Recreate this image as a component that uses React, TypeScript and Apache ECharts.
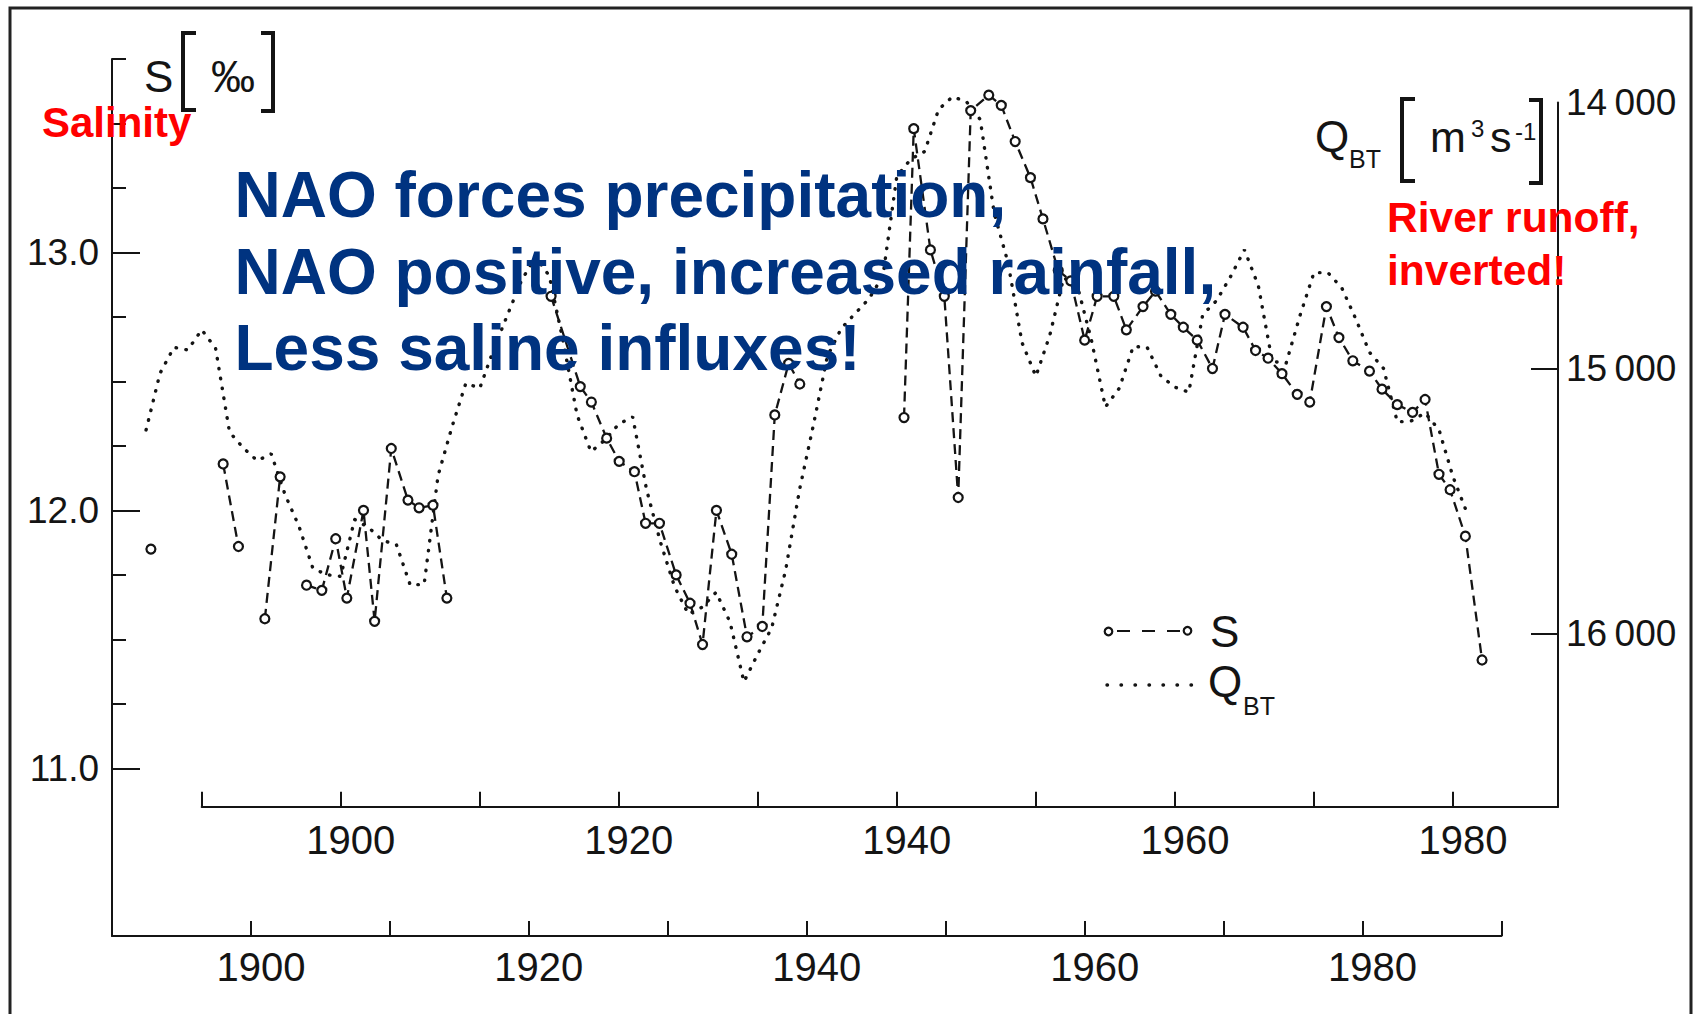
import React, { useEffect, useRef } from "react";
import * as echarts from "echarts";

// Salinity S (‰), lower time axis; gaps are null
const S_YEARS = [
  1892.8, 1895,
  1898.0, 1899.1, 1900,
  1901.0, 1902.1, 1903,
  1904.0, 1905.1, 1906.1, 1906.9, 1908.1, 1908.9, 1910.1, 1911.3, 1912.1, 1913.1, 1914.1, 1918,
  1921.6, 1923.7, 1924.5, 1925.6, 1926.5, 1927.6, 1928.4, 1929.4, 1930.6, 1931.6, 1932.5, 1933.5,
  1934.6, 1935.7, 1936.8, 1937.7, 1938.7, 1939.5, 1943,
  1947.0, 1947.7, 1948.9, 1949.9, 1950.9, 1951.8, 1953.1, 1954.0, 1955.0, 1956.1, 1957.0, 1958.1,
  1959.0, 1960.0, 1960.9, 1962.1, 1963.0, 1964.2, 1965.1, 1966.2, 1967.1, 1968.1, 1969.2, 1970.1,
  1971.4, 1972.3, 1973.2, 1974.2, 1975.3, 1976.2, 1977.4, 1978.3, 1979.3, 1980.5, 1981.4, 1982.5,
  1983.6, 1984.5, 1985.5, 1986.3, 1987.4, 1988.6,
];
const S_VALUES: (number | null)[] = [
  11.85, null,
  12.18, 11.86, null,
  11.58, 12.13, null,
  11.71, 11.69, 11.89, 11.66, 12.0, 11.57, 12.24, 12.04, 12.01, 12.02, 11.66, null,
  12.83, 12.48, 12.42, 12.28, 12.19, 12.15, 11.95, 11.95, 11.75, 11.64, 11.48, 12.0,
  11.83, 11.51, 11.55, 12.37, 12.57, 12.49, null,
  12.36, 13.48, 13.01, 12.83, 12.05, 13.55, 13.61, 13.57, 13.43, 13.29, 13.13, 12.93,
  12.89, 12.66, 12.83, 12.83, 12.7, 12.79, 12.85, 12.76, 12.71, 12.66, 12.55, 12.76,
  12.71, 12.62, 12.59, 12.53, 12.45, 12.42, 12.79, 12.67, 12.58, 12.54, 12.47, 12.41,
  12.38, 12.43, 12.14, 12.08, 11.9, 11.42,
];

// Baltic river runoff Q_BT (m³/s), upper time axis, plotted on an inverted scale
const Q_YEARS = [
  1886, 1887, 1888, 1889, 1890, 1891, 1892, 1893, 1894, 1895, 1896, 1897, 1898, 1899, 1900,
  1901, 1902, 1903, 1904, 1905, 1906, 1907, 1908, 1909, 1910, 1911, 1912, 1913, 1914, 1915,
  1916, 1917, 1918, 1919, 1920, 1921, 1922, 1923, 1924, 1925, 1926, 1927, 1928, 1929, 1930,
  1931, 1932, 1933, 1934, 1935, 1936, 1937, 1938, 1939, 1940, 1941, 1942, 1943, 1944, 1945,
  1946, 1947, 1948, 1949, 1950, 1951, 1952, 1953, 1954, 1955, 1956, 1957, 1958, 1959, 1960,
  1961, 1962, 1963, 1964, 1965, 1966, 1967, 1968, 1969, 1970, 1971, 1972, 1973, 1974, 1975,
  1976, 1977, 1978, 1979, 1980, 1981,
];
const Q_VALUES = [
  15232, 15019, 14921, 14931, 14855, 14925, 15240, 15300, 15348, 15322, 15476, 15595, 15753, 15777, 15783,
  15569, 15599, 15648, 15663, 15816, 15813, 15404, 15221, 15056, 15075, 14929, 14798, 14670, 14580, 14652,
  14899, 15176, 15314, 15270, 15210, 15183, 15457, 15655, 15820, 15925, 15899, 15843, 15955, 16180, 16075,
  15977, 15760, 15457, 15213, 14955, 14850, 14794, 14738, 14652, 14277, 14213, 14184, 14026, 13978, 13996,
  14064, 14416, 14603, 14903, 15030, 14876, 14659, 14693, 14895, 15146, 15075, 14918, 14921, 15030, 15071,
  15090, 14798, 14745, 14655, 14554, 14689, 14974, 14981, 14801, 14640, 14640, 14697, 14813, 14940, 15000,
  15202, 15198, 15168, 15232, 15408, 15543,
];

// Axis ticks and labels
const LOWER_YEAR_TICKS = [1890, 1900, 1910, 1920, 1930, 1940, 1950, 1960, 1970, 1980, 1990];
const UPPER_YEAR_TICKS = [1890, 1900, 1910, 1920, 1930, 1940, 1950, 1960, 1970, 1980];
const YEAR_LABELS = [1900, 1920, 1940, 1960, 1980];
const S_MINOR_TICKS = [11, 11.25, 11.5, 11.75, 12, 12.25, 12.5, 12.75, 13, 13.25, 13.5, 13.75];
const S_MAJOR_TICKS = [11, 12, 13];
const Q_TICKS = [15000, 16000];
const Q_LABELS = [14000, 15000, 16000];

const HEADLINE = [
  "NAO forces precipitation,",
  "NAO positive, increased rainfall,",
  "Less saline influxes!",
];

const SANS = "'Liberation Sans', Arial, Helvetica, sans-serif";
const INK = "#141414";

// upper (runoff) time scale: 1890 sits at x = 201.7, 13.903 px per year, right axis at x = 1558
const Q_LEFT = 201.7;
const Q_RIGHT = 1558;
const PX_PER_YEAR = 13.903;
const Q_MAX_YEAR = 1890 + (Q_RIGHT - Q_LEFT) / PX_PER_YEAR;
// the runoff curve starts left of the upper axis, so it lives in a wider, axis-less grid
const Q_WIDE_LEFT = 112;
const Q_WIDE_MIN_YEAR = 1890 - (Q_LEFT - Q_WIDE_LEFT) / PX_PER_YEAR;

// vertical centre for a given alphabetic baseline
const mid = (baseline: number, size: number) => baseline - 0.3465 * size;

function txt(text: string, x: number, baseline: number, size: number, extra: any = {}) {
  return {
    type: "text",
    x,
    y: mid(baseline, size),
    z: 100,
    style: {
      text,
      fontSize: size,
      fontFamily: SANS,
      fill: INK,
      align: "left",
      verticalAlign: "middle",
      ...extra,
    },
  };
}

function bracket(xOuter: number, xInner: number, top: number, bottom: number) {
  return {
    type: "polyline",
    z: 100,
    shape: {
      points: [
        [xInner, top],
        [xOuter, top],
        [xOuter, bottom],
        [xInner, bottom],
      ],
    },
    style: { stroke: INK, lineWidth: 4, fill: null },
  };
}

export default function App() {
  const ref = useRef<HTMLDivElement>(null);

  useEffect(() => {
    if (!ref.current) return;
    const chart = echarts.init(ref.current, null, { renderer: "svg" });

    const sData = S_YEARS.map((y, i) => [y, S_VALUES[i]]);
    const qData = Q_YEARS.map((y, i) => [y, Q_VALUES[i]]);

    const axisLine = { show: true, onZero: false, lineStyle: { color: INK, width: 2 } };
    const yearLabel = (margin: number) => ({
      customValues: YEAR_LABELS,
      formatter: (v: number) => String(v),
      fontSize: 40,
      fontFamily: SANS,
      color: INK,
      margin,
      padding: [0, 0, 0, 20],
    });

    const graphic: any[] = [
      // outer frame
      {
        type: "rect",
        z: 100,
        shape: { x: 10, y: 8, width: 1681, height: 1040 },
        style: { fill: null, stroke: "#222", lineWidth: 3 },
      },
      // S [‰]
      txt("S", 144, 92, 44),
      bracket(183, 196, 33, 110),
      txt("‰", 211, 92, 44),
      bracket(273, 261, 33, 111),
      // Q_BT [m³ s⁻¹]
      txt("Q", 1315, 152, 44),
      txt("BT", 1349, 168, 25),
      bracket(1402, 1415, 99, 181),
      txt("m", 1430, 152, 43),
      txt("3", 1471, 137, 24),
      txt("s", 1490, 152, 43),
      txt("-1", 1515, 140, 24),
      bracket(1541, 1529, 100, 183),
      // red notes
      txt("Salinity", 42, 136.7, 42, { fill: "#ff0000", fontWeight: "bold" }),
      txt("River runoff,", 1387, 232.7, 42.5, { fill: "#ff0000", fontWeight: "bold" }),
      txt("inverted!", 1387, 285, 42.5, { fill: "#ff0000", fontWeight: "bold" }),
      // headline
      ...HEADLINE.map((line, i) =>
        txt(line, 234.5, 217.3 + i * 76.4, 64, { fill: "#003380", fontWeight: "bold" })
      ),
      // legend: S
      {
        type: "line",
        z: 100,
        shape: { x1: 1112, y1: 631, x2: 1184, y2: 631 },
        style: { stroke: INK, lineWidth: 2, lineDash: [13, 12], lineDashOffset: -5 },
      },
      {
        type: "circle",
        z: 101,
        shape: { cx: 1108.5, cy: 631.5, r: 3.8 },
        style: { fill: "#fff", stroke: INK, lineWidth: 2.2 },
      },
      {
        type: "circle",
        z: 101,
        shape: { cx: 1187.5, cy: 630.8, r: 3.8 },
        style: { fill: "#fff", stroke: INK, lineWidth: 2.2 },
      },
      txt("S", 1210, 646.7, 44),
      // legend: Q_BT
      {
        type: "line",
        z: 100,
        shape: { x1: 1107, y1: 685, x2: 1192, y2: 685 },
        style: { stroke: INK, lineWidth: 3.4, lineDash: [0.5, 13.5], lineCap: "round" },
      },
      txt("Q", 1208, 697, 44),
      txt("BT", 1243, 715, 25),
    ];

    chart.setOption({
      animation: false,
      backgroundColor: "#ffffff",
      grid: [
        { left: 112, top: 59, width: 1389.5, height: 877, outerBoundsMode: "none" },
        { left: Q_LEFT, top: 102.6, width: Q_RIGHT - Q_LEFT, height: 704.1, outerBoundsMode: "none" },
        { left: Q_WIDE_LEFT, top: 102.6, width: Q_RIGHT - Q_WIDE_LEFT, height: 704.1, outerBoundsMode: "none" },
      ],
      xAxis: [
        {
          gridIndex: 0,
          type: "value",
          min: 1890,
          max: 1990,
          position: "bottom",
          axisLine,
          axisTick: { show: true, inside: true, length: 15, customValues: LOWER_YEAR_TICKS, lineStyle: { color: INK, width: 2 } },
          axisLabel: yearLabel(11),
          splitLine: { show: false },
        },
        {
          gridIndex: 1,
          type: "value",
          min: 1890,
          max: Q_MAX_YEAR,
          position: "bottom",
          axisLine,
          axisTick: { show: true, inside: true, length: 15, customValues: UPPER_YEAR_TICKS, lineStyle: { color: INK, width: 2 } },
          axisLabel: yearLabel(13),
          splitLine: { show: false },
        },
        {
          gridIndex: 2,
          type: "value",
          min: Q_WIDE_MIN_YEAR,
          max: Q_MAX_YEAR,
          show: false,
          splitLine: { show: false },
        },
      ],
      yAxis: [
        {
          gridIndex: 0,
          type: "value",
          min: 10.35,
          max: 13.75,
          position: "left",
          axisLine,
          axisTick: { show: true, inside: true, length: 14, customValues: S_MINOR_TICKS, lineStyle: { color: INK, width: 2 } },
          axisLabel: { show: false },
          splitLine: { show: false },
        },
        {
          gridIndex: 0,
          type: "value",
          min: 10.35,
          max: 13.75,
          position: "left",
          axisLine: { show: false },
          axisTick: { show: true, inside: true, length: 28, customValues: S_MAJOR_TICKS, lineStyle: { color: INK, width: 2 } },
          axisLabel: {
            customValues: S_MAJOR_TICKS,
            formatter: (v: number) => v.toFixed(1),
            fontSize: 37,
            fontFamily: SANS,
            color: INK,
            margin: 13,
          },
          splitLine: { show: false },
        },
        {
          gridIndex: 1,
          type: "value",
          min: 14000,
          max: 16650,
          inverse: true,
          position: "right",
          axisLine,
          axisTick: { show: true, inside: true, length: 27, customValues: Q_TICKS, lineStyle: { color: INK, width: 2 } },
          axisLabel: {
            customValues: Q_LABELS,
            formatter: (v: number) => String(v).slice(0, 2) + "\u2009" + String(v).slice(2),
            fontSize: 37,
            fontFamily: SANS,
            color: INK,
            margin: 8,
          },
          splitLine: { show: false },
        },
        {
          gridIndex: 2,
          type: "value",
          min: 14000,
          max: 16650,
          inverse: true,
          show: false,
          splitLine: { show: false },
        },
      ],
      series: [
        {
          name: "Q_BT",
          type: "line",
          xAxisIndex: 2,
          yAxisIndex: 3,
          data: qData,
          clip: false,
          symbol: "none",
          silent: true,
          z: 2,
          lineStyle: { color: INK, width: 3.4, type: [0.5, 9.5], cap: "round" },
        },
        {
          name: "S",
          type: "line",
          xAxisIndex: 0,
          yAxisIndex: 0,
          data: sData,
          connectNulls: false,
          symbol: "circle",
          symbolSize: 9,
          silent: true,
          z: 3,
          itemStyle: { color: "#ffffff", borderColor: INK, borderWidth: 2.2 },
          lineStyle: { color: INK, width: 2.3, type: [10, 6] },
        },
      ],
      graphic: { elements: graphic },
    });

    return () => chart.dispose();
  }, []);

  return (
    <div
      ref={ref}
      style={{ position: "absolute", left: 0, top: 0, width: 1695, height: 1014, background: "#fff" }}
    />
  );
}
